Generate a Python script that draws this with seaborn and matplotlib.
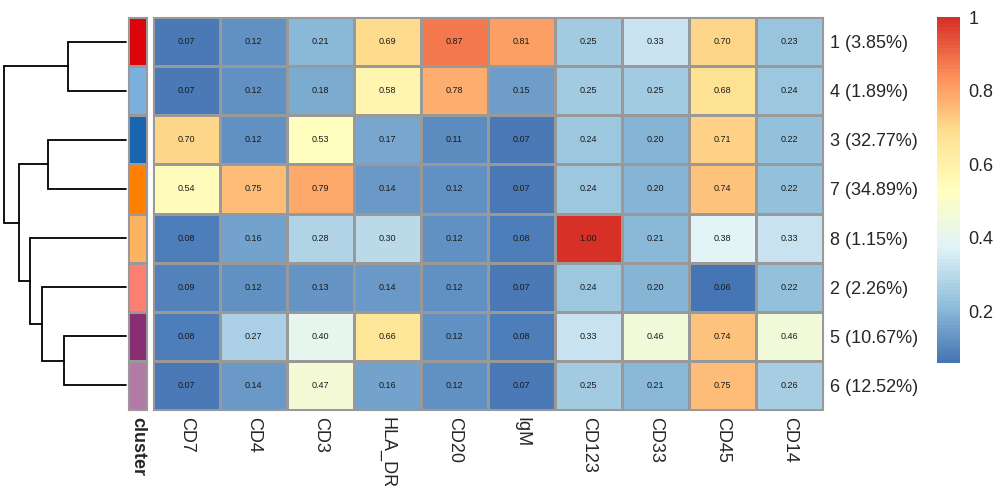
import numpy as np
import pandas as pd
import matplotlib
matplotlib.use("Agg")
import matplotlib.pyplot as plt
from matplotlib.colors import LinearSegmentedColormap, ListedColormap
import seaborn as sns

# marker expression medians per cluster (rows in dendrogram order)
markers = ["CD7", "CD4", "CD3", "HLA_DR", "CD20", "IgM", "CD123", "CD33", "CD45", "CD14"]
cluster_order = ["1", "4", "3", "7", "8", "2", "5", "6"]
cluster_pct = ["3.85", "1.89", "32.77", "34.89", "1.15", "2.26", "10.67", "12.52"]

row_1 = [0.07, 0.12, 0.21, 0.69, 0.87, 0.81, 0.25, 0.33, 0.70, 0.23]
row_4 = [0.07, 0.12, 0.18, 0.58, 0.78, 0.15, 0.25, 0.25, 0.68, 0.24]
row_3 = [0.70, 0.12, 0.53, 0.17, 0.11, 0.07, 0.24, 0.20, 0.71, 0.22]
row_7 = [0.54, 0.75, 0.79, 0.14, 0.12, 0.07, 0.24, 0.20, 0.74, 0.22]
row_8 = [0.08, 0.16, 0.28, 0.30, 0.12, 0.08, 1.00, 0.21, 0.38, 0.33]
row_2 = [0.09, 0.12, 0.13, 0.14, 0.12, 0.07, 0.24, 0.20, 0.06, 0.22]
row_5 = [0.08, 0.27, 0.40, 0.66, 0.12, 0.08, 0.33, 0.46, 0.74, 0.46]
row_6 = [0.07, 0.14, 0.47, 0.16, 0.12, 0.07, 0.25, 0.21, 0.75, 0.26]

cluster_colors = {"1": "#DC050C", "2": "#FB8072", "3": "#1965B0", "4": "#7BAFDE",
                  "5": "#882E72", "6": "#B17BA6", "7": "#FF7F00", "8": "#FDB462"}

# dendrogram merges (left, right, height)
merges = [
    ("1", "4", 58),
    ("3", "7", 78),
    ("5", "6", 62),
    ("2", "m3", 84),
    ("8", "m4", 96),
    ("m2", "m5", 107),
    ("m1", "m6", 122),
]

df = pd.DataFrame([row_1, row_4, row_3, row_7, row_8, row_2, row_5, row_6],
                  index=cluster_order, columns=markers)

sns.set_style("white")
plt.rcParams["font.family"] = ["Liberation Sans", "DejaVu Sans"]

cmap = LinearSegmentedColormap.from_list(
    "rdylbu", ["#4575B4", "#91BFDB", "#E0F3F8", "#FFFFBF", "#FEE090", "#FC8D59", "#D73027"], N=100)

fig = plt.figure(figsize=(10, 5), dpi=100)
H = 500.0
W = 1000.0
top, bottom = 17, 410
ax_dend = fig.add_axes([0, 1 - bottom / H, 126 / W, (bottom - top) / H])
ax_ann = fig.add_axes([128 / W, 1 - bottom / H, 19 / W, (bottom - top) / H])
ax_hm = fig.add_axes([153 / W, 1 - bottom / H, 670 / W, (bottom - top) / H])
ax_cb = fig.add_axes([937 / W, 1 - 363 / H, 23 / W, (363 - 17) / H])

border = "#999999"
sns.heatmap(df, ax=ax_hm, cmap=cmap, vmin=df.values.min(), vmax=df.values.max(),
            annot=True, fmt=".2f", annot_kws={"size": 6.5, "color": "#1a1a1a"},
            linewidths=0.8, linecolor=border, cbar_ax=ax_cb)
for sp in ax_hm.spines.values():
    sp.set_visible(True)
    sp.set_color(border)
    sp.set_linewidth(0.8)

ax_hm.yaxis.tick_right()
ax_hm.set_yticks(np.arange(len(cluster_order)) + 0.5)
ax_hm.set_yticklabels([f"{c} ({p}%)" for c, p in zip(cluster_order, cluster_pct)],
                      rotation=0, fontsize=13)
ax_hm.set_xticklabels(markers, rotation=-90, fontsize=13, va="top", ha="center")
ax_hm.tick_params(axis="both", length=0, pad=5)
ax_hm.set_xlabel("")
ax_hm.set_ylabel("")

# cluster annotation column
ann_idx = pd.DataFrame({"cluster": np.arange(len(cluster_order))}, index=cluster_order)
ann_cmap = ListedColormap([cluster_colors[c] for c in cluster_order])
sns.heatmap(ann_idx, ax=ax_ann, cmap=ann_cmap, cbar=False, linewidths=0.8,
            linecolor=border, vmin=-0.5, vmax=len(cluster_order) - 0.5)
for sp in ax_ann.spines.values():
    sp.set_visible(True)
    sp.set_color(border)
    sp.set_linewidth(0.8)
ax_ann.set_yticks([])
ax_ann.set_xticks([0.5])
ax_ann.set_xticklabels(["cluster"], rotation=-90, fontsize=13, fontweight="bold",
                       va="top", ha="center")
ax_ann.tick_params(axis="x", length=0, pad=5)
ax_ann.set_ylabel("")

# colorbar
ax_cb.set_yticks([0.2, 0.4, 0.6, 0.8, 1.0])
ax_cb.set_yticklabels(["0.2", "0.4", "0.6", "0.8", "1"], fontsize=13)
ax_cb.tick_params(length=0, pad=6)
for sp in ax_cb.spines.values():
    sp.set_visible(False)

# dendrogram
pos = {c: (0.0, i + 0.5) for i, c in enumerate(cluster_order)}
for k, (a, b, h) in enumerate(merges, start=1):
    xa, ya = pos[a]
    xb, yb = pos[b]
    ax_dend.plot([xa, h, h, xb], [ya, ya, yb, yb], color="black", lw=1.3,
                 solid_joinstyle="miter", clip_on=False)
    pos[f"m{k}"] = (h, (ya + yb) / 2)
ax_dend.set_xlim(126, 0)
ax_dend.set_ylim(len(cluster_order), 0)
ax_dend.axis("off")

fig.savefig("out.png", dpi=100)
